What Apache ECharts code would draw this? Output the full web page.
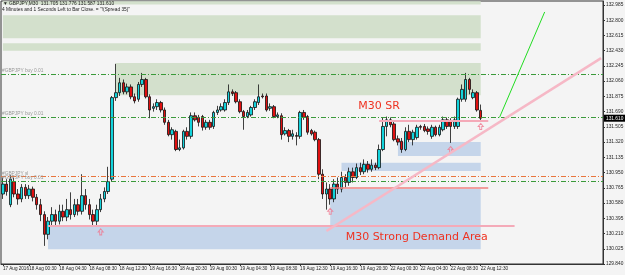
<!DOCTYPE html>
<html>
<head>
<meta charset="utf-8">
<script src="https://cdn.jsdelivr.net/npm/echarts@6/dist/echarts.min.js"></script>
<style>
html, body { margin: 0; padding: 0; background: #f4f4f4; }
#chart { width: 625px; height: 275px; }
</style>
</head>
<body>
<div id="chart"></div>
<script>
// GBPJPY M30 candles
const opens = [130.69,130.81,130.56,130.84,130.69,130.63,130.77,130.67,130.75,130.65,130.56,130.44,130.20,130.36,130.44,130.36,130.48,130.41,130.50,130.44,130.56,130.48,130.67,130.56,130.44,130.36,130.50,130.63,130.72,130.87,131.86,131.92,132.04,131.93,131.99,131.87,131.84,132.02,132.08,131.87,131.73,131.75,131.80,131.71,131.56,131.41,131.45,131.23,131.25,131.45,131.39,131.64,131.62,131.63,131.50,131.56,131.51,131.68,131.71,131.71,131.80,131.93,131.92,131.81,131.69,131.63,131.65,131.74,131.80,131.88,131.88,131.73,131.75,131.63,131.64,131.42,131.46,131.39,131.40,131.39,131.68,131.63,131.46,131.44,131.35,130.93,130.69,130.75,130.63,130.81,130.75,130.89,130.83,130.96,130.89,131.01,130.96,131.05,130.99,131.04,131.01,131.23,131.51,131.59,131.54,131.36,131.33,131.23,131.45,131.35,131.375,131.51,131.51,131.48,131.39,131.50,131.41,131.47,131.59,131.57,131.51,131.51,131.84,131.84,132.08,131.86,131.92,131.705];
const closes = [130.81,130.72,130.87,130.69,130.63,130.77,130.67,130.75,130.65,130.56,130.44,130.20,130.36,130.44,130.36,130.48,130.41,130.50,130.44,130.56,130.48,130.67,130.56,130.44,130.36,130.50,130.63,130.72,130.84,131.86,131.92,132.04,131.93,131.99,131.87,131.82,132.02,132.08,131.87,131.71,131.75,131.80,131.71,131.56,131.41,131.47,131.23,131.25,131.45,131.39,131.64,131.59,131.56,131.50,131.56,131.50,131.68,131.71,131.75,131.80,131.93,131.91,131.81,131.69,131.63,131.68,131.74,131.81,131.87,131.87,131.71,131.75,131.63,131.65,131.41,131.46,131.39,131.42,131.39,131.68,131.62,131.44,131.42,131.35,130.93,130.69,130.75,130.63,130.81,130.75,130.89,130.83,130.96,130.89,131.01,130.96,131.05,130.99,131.04,131.01,131.23,131.51,131.59,131.53,131.35,131.32,131.23,131.45,131.35,131.44,131.50,131.50,131.46,131.45,131.50,131.41,131.50,131.59,131.51,131.51,131.59,131.84,131.96,132.08,131.96,131.92,131.71,131.61];
const lows = [130.63,130.67,130.53,130.65,130.56,130.59,130.63,130.63,130.60,130.50,130.36,130.06,130.14,130.31,130.29,130.32,130.36,130.36,130.38,130.41,130.43,130.44,130.50,130.38,130.31,130.30,130.47,130.59,130.69,130.84,131.82,131.88,131.90,131.90,131.84,131.79,131.81,131.99,131.85,131.61,131.69,131.71,131.68,131.53,131.39,131.35,131.21,131.21,131.23,131.35,131.36,131.57,131.51,131.46,131.47,131.47,131.48,131.65,131.69,131.69,131.77,131.88,131.79,131.67,131.47,131.61,131.63,131.71,131.77,131.85,131.69,131.70,131.61,131.61,131.35,131.40,131.32,131.35,131.28,131.36,131.59,131.41,131.40,131.33,130.87,130.63,130.50,130.56,130.59,130.69,130.71,130.77,130.79,130.83,130.87,130.92,130.93,130.95,130.96,130.98,130.99,131.21,131.39,131.50,131.33,131.28,131.19,131.21,131.32,131.28,131.35,131.47,131.44,131.41,131.36,131.39,131.39,131.45,131.48,131.31,131.48,131.48,131.81,131.81,131.90,131.84,131.69,131.587];
const highs = [130.89,130.87,130.92,130.89,130.75,130.81,130.81,130.80,130.78,130.69,130.63,130.48,130.41,130.53,130.50,130.56,130.56,130.63,130.71,130.63,130.63,130.93,130.75,130.63,130.50,130.56,130.69,130.77,131.02,131.88,132.27,132.10,132.08,132.03,132.02,131.91,132.05,132.16,132.10,131.90,131.79,131.84,131.82,131.74,131.59,131.50,131.47,131.35,131.47,131.50,131.68,131.68,131.65,131.65,131.59,131.59,131.70,131.76,131.79,131.84,132.02,131.96,131.94,131.84,131.71,131.71,131.76,131.84,132.02,131.91,131.91,131.79,131.77,131.68,131.67,131.50,131.48,131.47,131.44,131.70,131.71,131.65,131.48,131.46,131.37,130.99,130.83,130.81,130.87,130.89,130.96,130.93,131.01,131.01,131.06,131.07,131.11,131.09,131.11,131.07,131.29,131.62,131.63,131.62,131.57,131.40,131.37,131.50,131.53,131.47,131.53,131.53,131.54,131.51,131.53,131.52,131.53,131.63,131.62,131.61,131.63,131.86,132.02,132.16,132.10,131.96,131.94,131.776];

// time axis labels (every 8 bars)
const tickLabels = ['17 Aug 2016','18 Aug 00:30','18 Aug 04:30','18 Aug 08:30','18 Aug 12:30','18 Aug 16:30','18 Aug 20:30','19 Aug 00:30','19 Aug 04:30','19 Aug 08:30','19 Aug 12:30','19 Aug 16:30','19 Aug 20:30','22 Aug 00:30','22 Aug 04:30','22 Aug 08:30','22 Aug 12:30'];
const tickIdx = [0,7,15,23,31,39,47,55,63,71,79,87,95,103,111,119,127];
const slotCount = 160; // bars + empty space on the right

// zones: [startBar, endBar, top, bottom]
const greenZones = [[0,127,133.03,132.99],[0,127,132.86,132.58],[0,127,132.52,132.43],[30,127,132.28,131.89]];
const blueZones = [[105,127,131.32,131.15],[90,127,131.07,130.97],[87,127,130.75,130.31],[12,127,130.31,130.02]];
// horizontal trade levels
const levelPrices = [132.14,131.62,130.90,130.84];
const levelColors = ['#3a9a3a','#3a9a3a','#e8743b','#3a9a3a'];
const levelNames = ['#GBPJPY buy 0.01','#GBPJPY buy 0.01','#GBPJPY sl','#GBPJPY buy 0.01'];
// fractal arrows [bar, price]
const arrows = [[26,130.23],[87,130.48],[119,131.23],[127,131.51]];

const cats = [];
for (let i = 0; i < slotCount; i++) cats.push('');
tickIdx.forEach((k, j) => { cats[k] = tickLabels[j]; });

const candles = opens.map((o, i) => [o, closes[i], lows[i], highs[i]]);

let myChart = echarts.init(document.getElementById('chart'));

const areaData = [];
greenZones.forEach(z => areaData.push([{ xAxis: z[0], yAxis: z[2], itemStyle: { color: '#d3e0cc' } }, { xAxis: z[1], yAxis: z[3] }]));
blueZones.forEach(z => areaData.push([{ xAxis: z[0], yAxis: z[2], itemStyle: { color: '#c5d5ea' } }, { xAxis: z[1], yAxis: z[3] }]));

const lineData = levelPrices.map((p, i) => ({
	yAxis: p,
	lineStyle: { color: levelColors[i], type: [5, 2, 1, 2], width: 1 },
	label: { show: true, position: 'insideStartTop', formatter: levelNames[i], fontSize: 4.8, color: '#999', distance: 1 }
}));
// current price tag
lineData.push({
	yAxis: closes[closes.length - 1],
	lineStyle: { color: 'rgba(0,0,0,0)', width: 0 },
	label: { show: true, position: 'end', formatter: closes[closes.length - 1].toFixed(3), backgroundColor: '#000', color: '#fff', fontSize: 4.8, fontFamily: 'Liberation Sans', padding: [1, 2], distance: 1 }
});
// drawn objects (no labels)
const noLabel = { show: false };
lineData.push([{ coord: [100, 131.58], label: noLabel, lineStyle: { color: '#f4aab8', width: 2, type: 'solid' } }, { coord: [129, 131.58] }]);
lineData.push([{ coord: [87, 130.77], label: noLabel, lineStyle: { color: '#f08080', width: 1.5, type: 'solid' } }, { coord: [129, 130.77] }]);
lineData.push([{ coord: [12, 130.31], label: noLabel, lineStyle: { color: '#f4aab8', width: 2, type: 'solid' } }, { coord: [136, 130.31] }]);
lineData.push([{ coord: [86, 130.24], label: noLabel, lineStyle: { color: '#f6b8c6', width: 2.5, type: 'solid' } }, { coord: [159, 132.34] }]);
lineData.push([{ coord: [132, 131.62], label: noLabel, lineStyle: { color: '#22dd22', width: 1, type: 'solid' } }, { coord: [144, 132.90] }]);

myChart.setOption({
	animation: false,
	backgroundColor: '#f4f4f4',
	grid: { left: 1, right: 22, top: 1, bottom: 11, outerBoundsMode: 'none', containLabel: false, show: true, borderColor: '#333', borderWidth: 1, backgroundColor: '#f4f4f4' },
	xAxis: {
		type: 'category',
		data: cats,
		boundaryGap: true,
		axisLine: { lineStyle: { color: '#333' } },
		axisTick: { show: true, alignWithLabel: true, length: 2, interval: (i, v) => v !== '', lineStyle: { color: '#333' } },
		axisLabel: { interval: 0, align: 'left', fontSize: 4.6, color: '#222', margin: 2, fontFamily: 'Liberation Sans' },
		splitLine: { show: false }
	},
	yAxis: {
		type: 'value',
		position: 'right',
		min: 129.84,
		max: 133.033,
		interval: 0.185,
		axisLine: { show: true, lineStyle: { color: '#333' } },
		axisTick: { show: true, length: 2, lineStyle: { color: '#333' } },
		axisLabel: { fontSize: 4.8, color: '#222', margin: 3, showMaxLabel: false, formatter: v => v.toFixed(3), fontFamily: 'Liberation Sans' },
		splitLine: { show: false }
	},
	graphic: [
		{ type: 'text', left: 3, top: 1, z: 100, style: { text: '\u25BC GBPJPY,M30  131.705 131.776 131.587 131.610', fontSize: 4.8, fill: '#222', fontFamily: 'Liberation Sans' } },
		{ type: 'text', left: 2, top: 7, z: 100, style: { text: '4 Minutes and 1 Seconds Left to Bar Close. = "!(Spread 35)"', fontSize: 4.8, fill: '#222', fontFamily: 'Liberation Sans' } }
	],
	series: [
		{
			type: 'candlestick',
			data: candles,
			barWidth: 3,
			itemStyle: { color: '#12d3dc', color0: '#e01010', borderColor: '#111', borderColor0: '#111', borderWidth: 0.8 },
			markArea: { silent: true, data: areaData, z: 0 },
			markLine: { silent: true, symbol: 'none', data: lineData },
			markPoint: {
				silent: true,
				symbolSize: 0,
				data: [
					{ coord: [100, 131.76], label: { show: true, formatter: 'M30 SR', color: '#ee3322', fontSize: 11, fontFamily: 'DejaVu Sans' } },
					{ coord: [110, 130.17], label: { show: true, formatter: 'M30 Strong Demand Area', color: '#ee3322', fontSize: 11, fontFamily: 'DejaVu Sans' } }
				]
			}
		},
		{
			type: 'scatter',
			data: arrows,
			symbol: 'path://M5,0 L10,5 L7,5 L7,10 L3,10 L3,5 L0,5 Z',
			symbolSize: [5, 6],
			itemStyle: { color: 'none', borderColor: '#f07890', borderWidth: 1 },
			silent: true
		}
	]
});
</script>
</body>
</html>
